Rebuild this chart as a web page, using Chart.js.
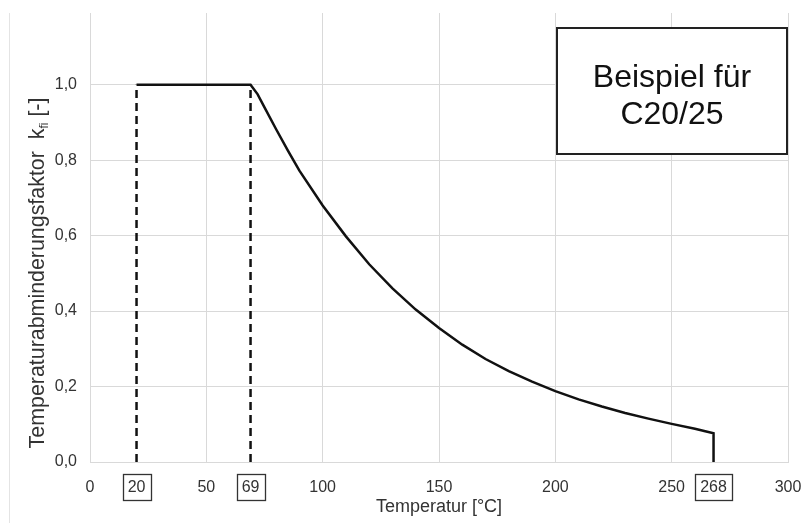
<!DOCTYPE html>
<html>
<head>
<meta charset="utf-8">
<script src="https://cdn.jsdelivr.net/npm/chart.js@4.4.0/dist/chart.umd.min.js"></script>
<style>
  body { margin: 0; background: #fff; }
</style>
</head>
<body>
<canvas id="chart" width="812" height="523"></canvas>
<script>
// curve
const temps   = [20, 69, 72, 75, 80, 85, 90, 100, 110, 120, 130, 140, 150, 160, 170, 180, 190, 200, 210, 220, 230, 240, 250, 260, 268, 268];
const factors = [1, 1, 0.975, 0.94, 0.882, 0.826, 0.772, 0.68, 0.598, 0.524, 0.46, 0.404, 0.355, 0.311, 0.273, 0.241, 0.213, 0.188, 0.166, 0.147, 0.13, 0.115, 0.101, 0.088, 0.076, 0];

const dashTemps = [20, 69];
const markedTemps = [20, 69, 268];
const xTicks = [0, 50, 100, 150, 200, 250, 300];
const yTicks = [0, 0.2, 0.4, 0.6, 0.8, 1.0];
const noteLines = ['Beispiel für', 'C20/25'];

const FONT = "'Liberation Sans', Arial, sans-serif";
const TEXT = '#333';
const GRID = '#d9d9d9';

function toPoints(xs, ys) {
  return xs.map((x, i) => ({ x: x, y: ys[i] }));
}

const dashSets = dashTemps.map(t => ({
  data: [{ x: t, y: 0 }, { x: t, y: 1 }],
  borderColor: '#111',
  borderWidth: 2.5,
  borderDash: [8, 5],
  showLine: true,
  pointRadius: 0,
  tension: 0
}));

const extras = {
  id: 'extras',
  beforeDraw(chart) {
    const ctx = chart.ctx;
    ctx.save();
    ctx.fillStyle = '#fff';
    ctx.fillRect(0, 0, chart.width, chart.height);
    // left edge of the original chart frame
    ctx.strokeStyle = '#e4e4e4';
    ctx.lineWidth = 1;
    ctx.beginPath();
    ctx.moveTo(9.5, 13);
    ctx.lineTo(9.5, chart.height);
    ctx.stroke();
    ctx.restore();
  },
  afterDraw(chart) {
    const { ctx, chartArea, scales } = chart;
    const x = scales.x;
    ctx.save();

    // boxed tick labels
    ctx.font = '16px ' + FONT;
    ctx.textAlign = 'center';
    ctx.textBaseline = 'middle';
    markedTemps.forEach(t => {
      const px = x.getPixelForValue(t);
      const label = String(t);
      const w = ctx.measureText(label).width + 10;
      ctx.fillStyle = '#fff';
      ctx.fillRect(px - w / 2, 474, w, 26);
      ctx.strokeStyle = '#333';
      ctx.lineWidth = 1.3;
      ctx.strokeRect(Math.round(px - w / 2) + 0.5, 474.5, Math.round(w), 26);
      ctx.fillStyle = TEXT;
      ctx.fillText(label, px, 488);
    });

    // x axis title
    ctx.font = '18px ' + FONT;
    ctx.fillStyle = TEXT;
    ctx.fillText('Temperatur [°C]', (chartArea.left + chartArea.right) / 2, 507);

    // y axis title with subscript
    ctx.translate(37, 273);
    ctx.rotate(-Math.PI / 2);
    const main = 'Temperaturabminderungsfaktor  k';
    const sub = 'fi';
    const tail = ' [-]';
    ctx.font = '21.4px ' + FONT;
    const wMain = ctx.measureText(main).width;
    const wTail = ctx.measureText(tail).width;
    ctx.font = '12px ' + FONT;
    const wSub = ctx.measureText(sub).width;
    let cx = -(wMain + wSub + wTail) / 2;
    ctx.textAlign = 'left';
    ctx.textBaseline = 'alphabetic';
    ctx.font = '21.4px ' + FONT;
    ctx.fillText(main, cx, 7);
    cx += wMain;
    ctx.font = '12px ' + FONT;
    ctx.fillText(sub, cx, 11);
    cx += wSub;
    ctx.font = '21.4px ' + FONT;
    ctx.fillText(tail, cx, 7);
    ctx.setTransform(1, 0, 0, 1, 0, 0);

    // note box
    const bx1 = 557;
    const bx2 = chartArea.right - 1;
    const by1 = 28, by2 = 154;
    ctx.fillStyle = '#fff';
    ctx.fillRect(bx1, by1, bx2 - bx1, by2 - by1);
    ctx.strokeStyle = '#222';
    ctx.lineWidth = 2;
    ctx.strokeRect(bx1, by1, bx2 - bx1, by2 - by1);
    ctx.fillStyle = '#111';
    ctx.font = '32px ' + FONT;
    ctx.textAlign = 'center';
    ctx.textBaseline = 'middle';
    const mid = (bx1 + bx2) / 2;
    ctx.fillText(noteLines[0], mid, 78);
    ctx.fillText(noteLines[1], mid, 115);

    ctx.restore();
  }
};

new Chart(document.getElementById('chart'), {
  type: 'scatter',
  data: {
    datasets: [
      {
        data: toPoints(temps, factors),
        borderColor: '#111',
        borderWidth: 2.5,
        showLine: true,
        pointRadius: 0,
        tension: 0
      }
    ].concat(dashSets)
  },
  options: {
    responsive: false,
    animation: false,
    devicePixelRatio: 1,
    layout: { padding: { top: 13, right: 24, left: 0, bottom: 0 } },
    plugins: { legend: { display: false }, tooltip: { enabled: false } },
    scales: {
      x: {
        type: 'linear',
        min: 0,
        max: 300,
        afterBuildTicks: s => { s.ticks = xTicks.map(v => ({ value: v })); },
        afterFit: s => {
          s.height = 61;
          s.paddingLeft = 0;
          s.paddingRight = 0;
        },
        grid: { color: GRID, drawTicks: false },
        border: { color: GRID },
        ticks: {
          color: TEXT,
          font: { family: FONT, size: 16 },
          padding: 16,
          maxRotation: 0
        }
      },
      y: {
        type: 'linear',
        min: 0,
        max: 1.19,
        afterBuildTicks: s => { s.ticks = yTicks.map(v => ({ value: v })); },
        afterFit: s => {
          s.width = 90;
          s.paddingTop = 0;
          s.paddingBottom = 0;
        },
        grid: { color: GRID, drawTicks: false },
        border: { color: GRID },
        ticks: {
          color: TEXT,
          font: { family: FONT, size: 16 },
          padding: 13,
          callback: v => v.toFixed(1).replace('.', ',')
        }
      }
    }
  },
  plugins: [extras]
});
</script>
</body>
</html>
